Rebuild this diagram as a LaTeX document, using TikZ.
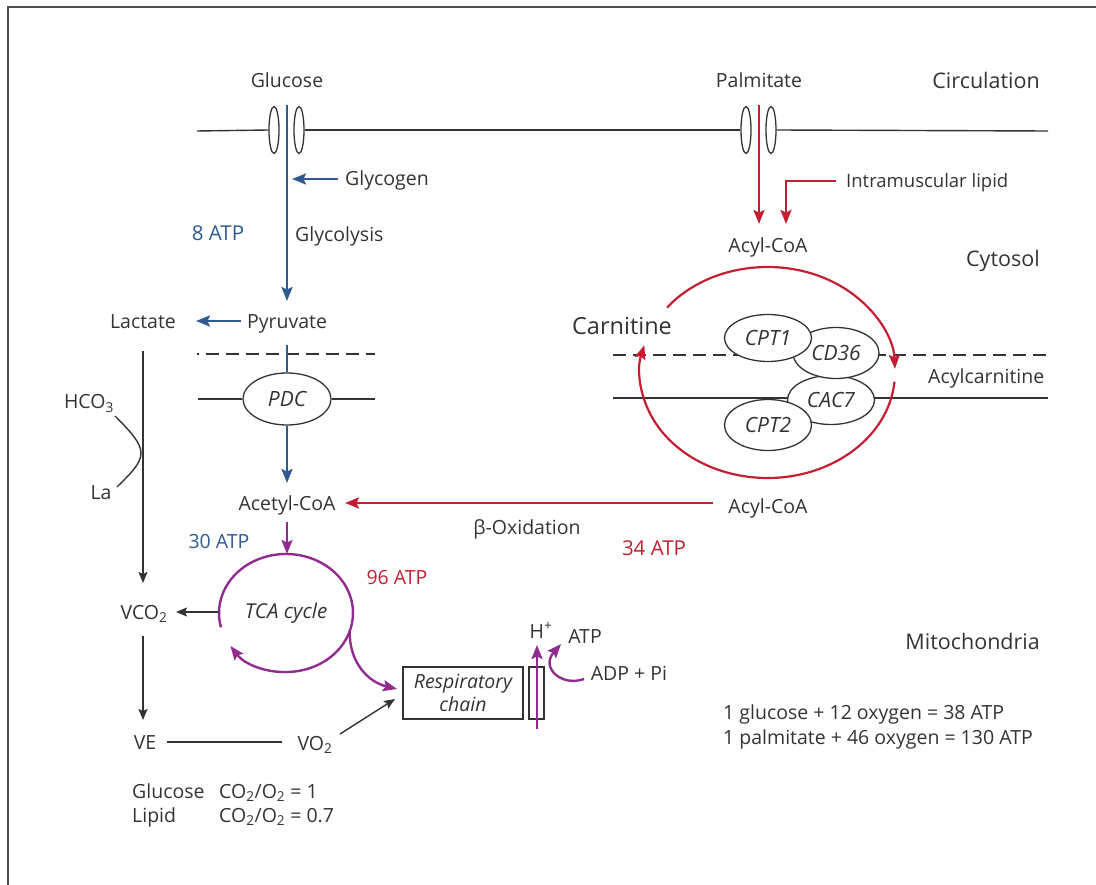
\documentclass[tikz,border=0pt]{standalone}
\usepackage{fontspec}
\setmainfont{Open Sans}
\usetikzlibrary{arrows.meta,shapes.geometric}
\definecolor{tx}{HTML}{333333}
\definecolor{bl}{HTML}{2F5B8E}
\definecolor{rd}{HTML}{C41E32}
\definecolor{pu}{HTML}{912B8F}
\definecolor{fr}{HTML}{4D4D4D}
\begin{document}
\begin{tikzpicture}[x=1pt,y=-1pt,
  font=\fontsize{19.5}{23}\selectfont, text=tx,
  lbl/.style={inner sep=0pt, text height=14pt, text depth=0pt},
  big/.style={font=\fontsize{21.5}{25}\selectfont, text height=15.4pt},
  blk/.style={draw=tx, line width=1.4pt},
  thk/.style={line width=2.4pt},
  carr/.style={-{Stealth[length=14pt,width=11pt,inset=2.5pt]}},
  karr/.style={-{Stealth[length=11pt,width=9pt,inset=2pt]}},
  chan/.style={draw=tx, line width=1.3pt, ellipse, minimum width=10pt, minimum height=47pt, inner sep=0pt},
  enz/.style={draw=tx, line width=1.3pt, ellipse, fill=white, minimum width=87pt, minimum height=49pt, inner sep=0pt, font=\fontsize{21}{25}\selectfont\itshape},
  dsh/.style={draw=tx, line width=1.4pt, dash pattern=on 13pt off 7pt}
]
\useasboundingbox (0,0) rectangle (1096,885);
% frame
\draw[fr, line width=2.4pt] (8,885) -- (8,7) -- (1096,7);

% ---------------- circulation membrane
\node[chan] (ch1) at (274,130) {};
\node[chan] (ch2) at (299,130) {};
\node[chan] (ch3) at (746,130) {};
\node[chan] (ch4) at (771,130) {};
\coordinate (memL) at (197,131);
\coordinate (memR) at (1048,131);
\draw[blk] (memL) -- (ch1.west);
\draw[blk] (ch2.east) -- (ch3.west);
\draw[blk] (ch4.east) -- (memR);

% ---------------- labels
\node[lbl] (glucose) at (287,81) {Glucose};
\node[lbl] (palm) at (759,81) {Palmitate};
\node[lbl, big, anchor=east] (circ) at (1040,81) {Circulation};
\node[lbl, anchor=west] (glycogen) at (345,179) {Glycogen};
\node[lbl, text=bl, font=\fontsize{20.5}{24}\selectfont] (atp8) at (218,234) {8 ATP};
\node[lbl, anchor=west] (glycolysis) at (295,235) {Glycolysis};
\node[lbl] (pyr) at (287,322) {Pyruvate};
\node[lbl] (lac) at (143,322) {Lactate};
\node[lbl, anchor=west, font=\fontsize{18.5}{22}\selectfont] (iml) at (846,181) {Intramuscular lipid};
\node[lbl] (acyl1) at (768,246) {Acyl-CoA};
\node[lbl, big, anchor=east] (cyto) at (1040,259) {Cytosol};
\node[lbl, font=\fontsize{23.5}{27}\selectfont, text height=16.5pt] (carn) at (622,326) {Carnitine};
\node[lbl, anchor=west] (acylcarn) at (928,377) {Acylcarnitine};
\node[lbl] (acetyl) at (287,503) {Acetyl-CoA};
\node[lbl] (acyl2) at (768,506) {Acyl-CoA};
\node[lbl] (beta) at (527,527) {β-Oxidation};
\node[lbl, text=rd, font=\fontsize{20.5}{24}\selectfont] (atp34) at (654,548) {34 ATP};
\node[lbl, text=bl] (atp30) at (219,541) {30 ATP};
\node[lbl, text=rd] (atp96) at (397,577) {96 ATP};
\node[lbl] (hco3) at (89,402) {HCO\textsubscript{3}};
\node[lbl] (la) at (101,493) {La};
\node[lbl] (vco2) at (144,612) {VCO\textsubscript{2}};
\node[lbl] (ve) at (145,742) {VE};
\node[lbl] (vo2) at (315,743) {VO\textsubscript{2}};
\node[lbl] (hplus) at (541,631) {H\textsuperscript{+}};
\node[lbl] (atp) at (585,636) {ATP};
\node[lbl] (adp) at (629,673) {ADP + Pi};
\node[lbl, big, anchor=east] (mito) at (1040,642) {Mitochondria};
\node[lbl, anchor=west] (eq1) at (723,712) {1 glucose + 12 oxygen = 38 ATP};
\node[lbl, anchor=west] (eq2) at (723,737) {1 palmitate + 46 oxygen = 130 ATP};
\node[lbl, anchor=west] (gl) at (132,791) {Glucose};
\node[lbl, anchor=west] (glr) at (219,791) {CO\textsubscript{2}/O\textsubscript{2} = 1};
\node[lbl, anchor=west] (li) at (132,815) {Lipid};
\node[lbl, anchor=west] (lir) at (219,815) {CO\textsubscript{2}/O\textsubscript{2} = 0.7};

% ---------------- glucose pathway (blue)
\coordinate (gtop) at (287,105);
\coordinate (gbot) at (287,301);
\draw[bl, thk, carr] (gtop) -- (gbot);
\coordinate (glyS) at (338,179);
\coordinate (glyE) at (292,179);
\draw[bl, thk, carr] (glyS) -- (glyE);
\coordinate (pyrS) at (241,321);
\coordinate (lacE) at (196,321);
\draw[bl, thk, carr] (pyrS) -- (lacE);

% mitochondrial membranes left
\coordinate (dL1) at (197,354);
\coordinate (dR1) at (375,354);
\draw[dsh, dash phase=11pt] (dL1) -- (dR1);
\node[draw=tx, line width=1.3pt, ellipse, minimum width=88pt, minimum height=52pt, inner sep=0pt, font=\fontsize{21}{25}\selectfont\itshape] (pdc) at (287,399) {PDC};
\coordinate (sL1) at (198,399);
\coordinate (sR1) at (375,399);
\draw[blk] (sL1) -- (pdc.west);
\draw[blk] (pdc.east) -- (sR1);
\coordinate (pdcIn) at (287,345);
\draw[bl, thk] (pdcIn) -- (pdc.north);
\coordinate (acTop) at (287,483);
\draw[bl, thk, carr] (pdc.south) -- (acTop);

% ---------------- palmitate pathway (red)
\coordinate (ptop) at (759,105);
\coordinate (pbot) at (759,224);
\draw[rd, thk, carr] (ptop) -- (pbot);
\coordinate (imlS) at (836,181);
\coordinate (imlC) at (786,181);
\coordinate (imlE) at (786,224);
\draw[rd, thk, carr] (imlS) -- (imlC) -- (imlE);

% carnitine membranes
\coordinate (dL2) at (613,355);
\coordinate (dR2) at (1048,355);
\draw[dsh] (dL2) -- (dR2);
\coordinate (sL2) at (613,398);
\coordinate (sR2) at (1048,398);
\draw[blk] (sL2) -- (sR2);
\node[enz] (cac7) at (831,400) {CAC7};
\node[enz, minimum width=86pt, minimum height=51pt] (cd36) at (836,353) {CD36};
\node[enz, minimum height=51pt] (cpt2) at (768,425) {CPT2};
\node[enz, minimum height=47pt] (cpt1) at (768,338) {CPT1};

% carnitine cycle arcs
\coordinate (cc) at (767.5,372.5);
\draw[rd, line width=2.2pt, carr] (cc) ++(218:127.5 and 105.5) arc[start angle=218, end angle=358, x radius=127.5, y radius=105.5];
\draw[rd, line width=2.2pt, carr] (cc) ++(5:127.5 and 105.5) arc[start angle=5, end angle=195, x radius=127.5, y radius=105.5];

% beta oxidation
\coordinate (boS) at (713,503);
\coordinate (boE) at (345,503);
\draw[rd, thk, carr] (boS) -- (boE);

% ---------------- TCA cycle (purple)
\node[ellipse, minimum width=134pt, minimum height=118pt, inner sep=0pt, font=\fontsize{20.5}{24}\selectfont\itshape] (tca) at (286,613) {TCA cycle};
\coordinate (tcaIn) at (287,522);
\coordinate (tcaTop) at (287,554);
\draw[pu, thk, carr] (tcaIn) -- (tcaTop);
\draw[pu, thk, carr] (tca.center) ++(166:67 and 59) arc[start angle=166, end angle=506, x radius=67, y radius=59];
\node[draw=tx, line width=1.3pt, minimum width=120pt, minimum height=52pt, inner sep=0pt, align=center, font=\fontsize{19.5}{23}\selectfont\itshape] (resp) at (463,693) {Respiratory\\chain};
\node[draw=tx, line width=1.3pt, minimum width=15pt, minimum height=52pt, inner sep=0pt] (atpase) at (536.5,693) {};
\coordinate (rcIn) at (397,689);
\draw[pu, thk, carr] (tca.center) ++(18:67 and 59) .. controls (349,662) and (368,682) .. (rcIn);

% black connectors
\coordinate (vcoS) at (219,612);
\coordinate (vcoE) at (176,612);
\draw[blk, karr] (vcoS) -- (vcoE);
\coordinate (lacS) at (143,351);
\coordinate (lacB) at (143,583);
\draw[blk, karr] (lacS) -- (lacB);
\coordinate (hcoS) at (115,416);
\coordinate (hcoM) at (141,453);
\coordinate (laE) at (117,487);
\draw[blk] (hcoS) .. controls (131,432) and (141,443) .. (hcoM) .. controls (141,464) and (130,474) .. (laE);
\coordinate (vcoD) at (143,636);
\coordinate (veT) at (143,720);
\draw[blk, karr] (vcoD) -- (veT);
\coordinate (veR) at (167,742);
\coordinate (vo2L) at (282,742);
\draw[blk] (veR) -- (vo2L);
\coordinate (vo2S) at (340,734);
\coordinate (rcB) at (395,699);
\draw[blk, karr] (vo2S) -- (rcB);

% proton / ATP
\coordinate (hB) at (537,729);
\coordinate (hT) at (537,645);
\draw[pu, thk, carr] (hB) -- (hT);
\coordinate (adpS) at (584,679);
\coordinate (atpE) at (561,644);
\draw[pu, thk, carr] (adpS) .. controls (562,687) and (540,668) .. (atpE);
\end{tikzpicture}
\end{document}
